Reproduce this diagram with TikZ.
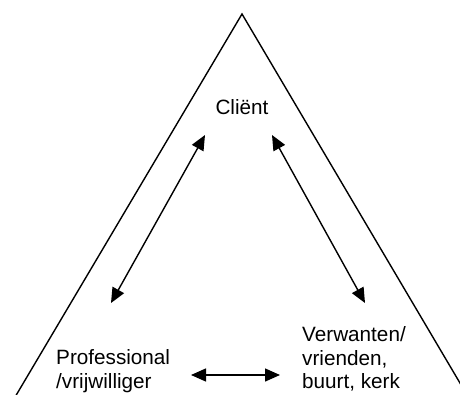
\documentclass[tikz,border=0pt]{standalone}
\usepackage{fontspec}
\setmainfont{Liberation Sans}
\usetikzlibrary{arrows.meta}
\begin{document}
\begin{tikzpicture}[x=1pt,y=-1pt,
  side/.style={line width=1.4pt},
  link/.style={line width=1.4pt,{Triangle[length=15pt,width=13pt]}-{Triangle[length=15pt,width=13pt]}},
  lbl/.style={font=\fontsize{20.7}{23.8}\selectfont, inner sep=0pt, align=left}]
\useasboundingbox (0,0) rectangle (460,394);
\clip (0,0) rectangle (460,394);
\coordinate (apex) at (242,14);
\coordinate (bl) at (13.3,400);
\coordinate (br) at (470,400);
\draw[side] (bl) -- (apex) -- (br);
\node[lbl,anchor=base] (client) at (242,114) {Cliënt};
\node[lbl,anchor=north west] (prof) at (56,349.5) {Professional\\/vrijwilliger};
\node[lbl,anchor=north west] (verw) at (302,326) {Verwanten/\\vrienden,\\buurt, kerk};
\coordinate (a1) at (205,135);
\coordinate (a2) at (111,303);
\coordinate (b1) at (272,135);
\coordinate (b2) at (365,303);
\coordinate (c1) at (191,375);
\coordinate (c2) at (280,375);
\draw[link] (a1) -- (a2);
\draw[link] (b1) -- (b2);
\draw[link] (c1) -- (c2);
\end{tikzpicture}
\end{document}
